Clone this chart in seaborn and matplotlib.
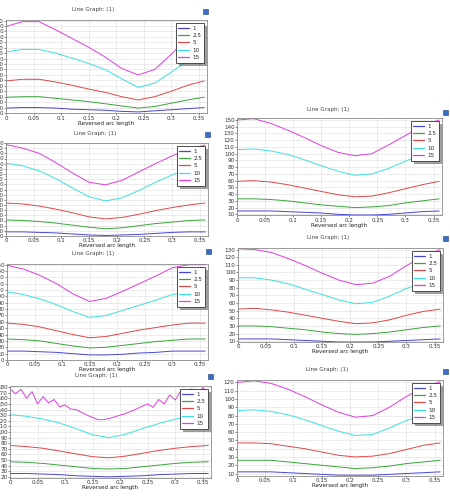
import matplotlib
matplotlib.use("Agg")
import matplotlib.pyplot as plt
import pandas as pd
import seaborn as sns
from matplotlib.patches import Rectangle

sns.set_theme(style="whitegrid")
plt.rcParams["font.family"] = ["DejaVu Sans"]

# ---------------- data ----------------
series_labels = ["1", "2.5", "5", "10", "15"]
x_pos = [0, 0.03, 0.06, 0.09, 0.12, 0.15, 0.18, 0.21, 0.24, 0.27, 0.30, 0.33, 0.36]
x_fine = [i / 100 for i in range(37)]
x_ticks = [0, 0.05, 0.1, 0.15, 0.2, 0.25, 0.3, 0.35]
x_tick_labels = ["0", "0.05", "0.1", "0.15", "0.2", "0.25", "0.3", "0.35"]
title_text = "Line Graph: (1)"
xlabel_text = "Reversed arc length"

# panel A (left, top)
a_1 = [9, 10, 10, 9, 7, 6, 5, 3, 2, 4, 6, 8, 10]
a_2p5 = [29, 30, 30, 27, 24, 21, 17, 13, 9, 12, 18, 24, 29]
a_5 = [59, 62, 62, 57, 51, 44, 38, 30, 24, 30, 40, 51, 59]
a_10 = [112, 117, 117, 110, 101, 91, 80, 63, 47, 55, 75, 96, 112]
a_15 = [159, 168, 168, 153, 137, 121, 103, 82, 70, 80, 108, 138, 160]

# panel B (left, second)
b_1 = [8, 8, 7, 6, 4, 2, 1, 2, 3, 5, 7, 8, 8]
b_2p5 = [31, 30, 28, 25, 21, 17, 14, 16, 20, 24, 27, 30, 31]
b_5 = [64, 62, 58, 52, 45, 37, 33, 36, 42, 49, 55, 60, 64]
b_10 = [141, 136, 126, 111, 93, 76, 68, 74, 88, 104, 118, 131, 140]
b_15 = [177, 170, 160, 142, 122, 104, 99, 108, 124, 140, 155, 168, 176]

# panel C (left, third)
c_1 = [14, 14, 13, 12, 10, 8, 8, 9, 11, 12, 14, 14, 14]
c_2p5 = [33, 32, 30, 26, 22, 19, 20, 23, 26, 29, 31, 33, 33]
c_5 = [58, 56, 52, 46, 40, 35, 37, 42, 47, 51, 55, 58, 58]
c_10 = [107, 103, 96, 87, 76, 67, 70, 78, 86, 94, 103, 107, 108]
c_15 = [149, 143, 133, 120, 104, 92, 97, 108, 120, 132, 145, 150, 150]

# panel D (left, bottom) - noisy top curve
d_1 = [26, 26, 25, 24, 22, 21, 20, 21, 22, 24, 25, 26, 26]
d_2p5 = [47, 46, 44, 41, 38, 35, 34, 35, 38, 41, 44, 46, 47]
d_5 = [76, 74, 71, 66, 61, 56, 54, 57, 62, 67, 71, 74, 76]
d_10 = [131, 128, 123, 116, 106, 95, 90, 96, 106, 115, 123, 128, 131]
d_15 = [177, 168, 176, 160, 172, 150, 163, 152, 158, 145, 148, 141, 140, 135, 130,
        126, 122, 122, 124, 127, 130, 133, 137, 141, 146, 150, 144, 158, 150, 166,
        157, 173, 162, 177, 167, 179, 170]

# panel E (right, top)
e_1 = [15, 15, 15, 14, 13, 12, 10, 9, 9, 10, 12, 14, 15]
e_2p5 = [33, 33, 32, 30, 27, 24, 22, 20, 21, 23, 27, 30, 33]
e_5 = [59, 60, 58, 54, 49, 44, 39, 36, 37, 42, 48, 54, 59]
e_10 = [106, 107, 104, 99, 91, 82, 74, 68, 70, 78, 89, 99, 106]
e_15 = [150, 152, 145, 135, 124, 112, 102, 97, 100, 113, 127, 141, 150]

# panel F (right, middle)
f_1 = [13, 13, 13, 12, 11, 10, 9, 9, 9, 10, 11, 12, 13]
f_2p5 = [30, 30, 29, 27, 25, 22, 20, 19, 20, 22, 25, 28, 30]
f_5 = [52, 53, 51, 48, 44, 40, 36, 33, 34, 38, 44, 49, 52]
f_10 = [93, 93, 90, 85, 78, 71, 64, 59, 61, 69, 79, 87, 92]
f_15 = [131, 130, 126, 118, 109, 99, 90, 84, 86, 95, 109, 121, 130]

# panel G (right, bottom)
g_1 = [12, 12, 12, 11, 10, 9, 8, 8, 8, 9, 10, 11, 12]
g_2p5 = [26, 26, 26, 24, 22, 20, 18, 16, 17, 19, 22, 24, 26]
g_5 = [47, 47, 46, 43, 40, 36, 32, 30, 31, 34, 39, 44, 47]
g_10 = [86, 87, 85, 81, 75, 68, 61, 56, 57, 65, 74, 81, 86]
g_15 = [120, 122, 119, 112, 103, 93, 84, 78, 80, 90, 103, 114, 121]

# ---------------- style / layout ----------------
W, H = 450, 497
colors = ["#4646d8", "#3aa53a", "#e04848", "#3ce0e0", "#e03ce0"]

# (series, axes px box (x0, y0, x1, y1), ylim, ytick start/stop, title pos, icon pos)
panels = [
    ([a_1, a_2p5, a_5, a_10, a_15], (6, 20, 207, 113), (0, 171), (0, 170), (93, 10), (205, 11)),
    ([b_1, b_2p5, b_5, b_10, b_15], (6, 143, 208, 236), (0, 180), (0, 180), (95, 133), (207, 134)),
    ([c_1, c_2p5, c_5, c_10, c_15], (7, 264, 208, 360), (0, 151), (0, 150), (93, 253), (208, 252)),
    ([d_1, d_2p5, d_5, d_10, d_15], (10, 386, 211, 478), (18, 182), (20, 180), (96, 375), (210, 376)),
    ([e_1, e_2p5, e_5, e_10, e_15], (237, 118, 442, 215), (9, 153), (10, 150), (328, 110), (445, 112)),
    ([f_1, f_2p5, f_5, f_10, f_15], (238, 248, 443, 342), (9, 132), (10, 130), (328, 238), (445, 238)),
    ([g_1, g_2p5, g_5, g_10, g_15], (237, 380, 443, 476), (7, 123), (10, 120), (327, 370), (445, 371)),
]

fig = plt.figure(figsize=(W / 100, H / 100), dpi=100)
fig.patch.set_facecolor("white")

fs = 4.1
for series, (x0, y0, x1, y1), ylim, (yt0, yt1), (tx, ty), (ix, iy) in panels:
    ax = fig.add_axes([x0 / W, 1 - y1 / H, (x1 - x0) / W, (y1 - y0) / H])
    rows = []
    for lab, vals in zip(series_labels, series):
        xs = x_pos if len(vals) == len(x_pos) else x_fine
        rows += [(xv, yv, lab) for xv, yv in zip(xs, vals)]
    df = pd.DataFrame(rows, columns=["x", "y", "s"])
    sns.lineplot(data=df, x="x", y="y", hue="s", hue_order=series_labels,
                 palette=colors, estimator=None, sort=False, linewidth=0.7, ax=ax)
    ax.set_facecolor("white")
    ax.set_xlim(0, 0.365)
    ax.set_ylim(*ylim)
    ax.set_xticks(x_ticks)
    ax.set_xticklabels(x_tick_labels)
    ax.set_yticks(list(range(yt0, yt1 + 1, 10)))
    ax.tick_params(axis="both", labelsize=fs, length=1.2, width=0.4, pad=0.6,
                   colors="#333333", left=True, bottom=True)
    ax.grid(True, color="#dddddd", linewidth=0.4)
    for sp in ax.spines.values():
        sp.set_color("#8a8a8a")
        sp.set_linewidth(0.6)
    ax.set_xlabel(xlabel_text, fontsize=fs, labelpad=0, color="#222222")
    ax.set_ylabel("")
    handles, labels = ax.get_legend_handles_labels()
    leg = ax.legend(handles, labels, loc="upper right", fontsize=fs,
                    handlelength=1.9, handletextpad=0.6, borderpad=0.4,
                    labelspacing=0.42, borderaxespad=0.6, frameon=True,
                    fancybox=False, shadow=True, edgecolor="#333333")
    leg.get_frame().set_linewidth(0.6)
    for ln in leg.get_lines():
        ln.set_linewidth(0.9)
    fig.text(tx / W, 1 - ty / H, title_text, fontsize=fs, color="#444444",
             ha="center", va="center")
    fig.patches.append(Rectangle((ix / W - 2.5 / W, 1 - iy / H - 2.5 / H), 5 / W, 5 / H,
                                 transform=fig.transFigure, facecolor="#3a6fc8",
                                 edgecolor="#1d3f80", linewidth=0.4))

fig.savefig("out.png", dpi=100, facecolor="white")
